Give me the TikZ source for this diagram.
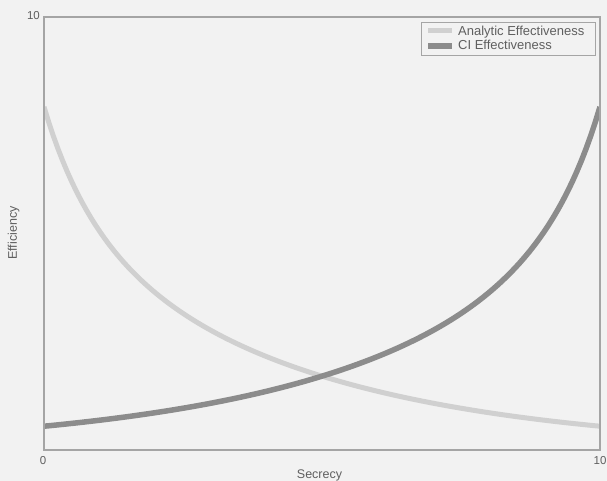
\documentclass[tikz,border=0pt]{standalone}
\usepackage{fontspec}
\setmainfont{Liberation Sans}
\usepackage{tikz}
\definecolor{chartback}{RGB}{242,242,242}
\definecolor{chartframe}{RGB}{165,165,165}
\definecolor{chartanalytic}{RGB}{208,208,208}
\definecolor{chartci}{RGB}{140,140,140}
\definecolor{charttext}{RGB}{95,95,95}

\begin{document}
\begin{tikzpicture}[x=55.6pt, y=43.3pt,
    ticklabel/.style={text=charttext, font=\fontsize{11.5}{12}\selectfont, inner sep=0pt},
    axislabel/.style={text=charttext, font=\fontsize{12.5}{13}\selectfont, inner sep=0pt, anchor=base},
    legendtext/.style={text=charttext, font=\fontsize{13}{14}\selectfont, inner sep=0pt, anchor=base west},
    analytic/.style={chartanalytic, line width=5pt},
    cieff/.style={chartci, line width=5.5pt}]
    % Background
    \fill[chartback] (-44pt,-31pt) rectangle (563pt,450pt);
    \useasboundingbox (-44pt,-31pt) rectangle (563pt,450pt);

    % Curves
    \begin{scope}
        \clip (0,0) rectangle (10,10);
        \draw[analytic] plot[domain=0:10, samples=120] (\x, {exp(2.07-0.225*\x-0.42*(1-exp(-\x/1.3)))});
        \draw[cieff] plot[domain=0:10, samples=120] (\x, {exp(2.07-0.225*(10-\x)-0.42*(1-exp(-(10-\x)/1.3)))});
    \end{scope}

    % Frame
    \draw[chartframe, line width=1.2pt] (0,0) rectangle (10,10);

    % Labels
    \node[ticklabel] (ymaxlabel) at (-10.5pt,434pt) {10};
    \node[ticklabel] (xminlabel) at (-1pt,-11pt) {0};
    \node[ticklabel] (xmaxlabel) at (556pt,-11pt) {10};
    \node[axislabel] (xlabel) at (275.5pt,-29pt) {Secrecy};
    \node[axislabel, rotate=90] (ylabel) at (-27pt,217pt) {Efficiency};

    % Legend
    \draw[chartframe, line width=0.8pt] (377pt,395pt) rectangle (551pt,428pt);
    \draw[analytic] (384pt,419pt) -- (408pt,419pt);
    \node[legendtext] (analyticlabel) at (414pt,414pt) {Analytic Effectiveness};
    \draw[cieff] (384pt,404pt) -- (408pt,404pt);
    \node[legendtext] (cilabel) at (414pt,400pt) {CI Effectiveness};
\end{tikzpicture}
\end{document}
